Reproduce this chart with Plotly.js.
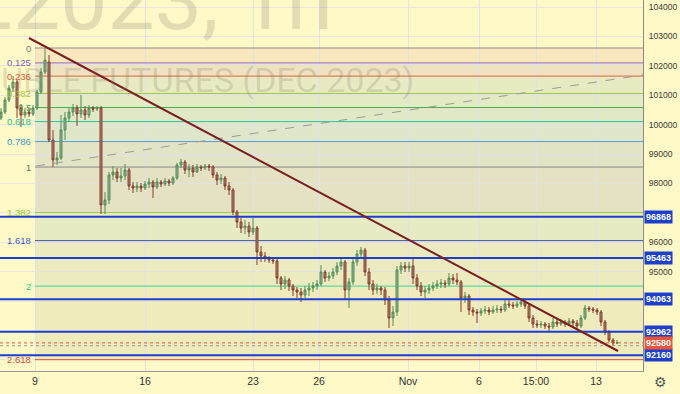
<!DOCTYPE html>
<html><head><meta charset="utf-8">
<script src="https://cdn.plot.ly/plotly-3.0.1.min.js"></script>
<style>html,body{margin:0;padding:0;background:#fff9c7;}#chart{width:680px;height:394px;}</style>
</head><body><div id="chart"></div>
<script>
// ---- hourly candles (price) ----
const opens = [
100226,100430,100838,101246,101450,100566,100328,100430,100362,100566,
101110,101790,102130,99478,98798,98866,99818,100226,100430,100566,
100362,100498,100328,100566,100532,100566,97268,97438,98288,98390,
98186,98254,98458,97914,97846,97914,97846,97982,98050,97880,
98050,97982,98084,98016,98186,98628,98730,98458,98526,98390,
98560,98526,98594,98560,98288,98118,98186,97914,97778,97030,
96690,96486,96554,96350,96486,95670,95534,95466,95398,95364,
94786,94582,94718,94514,94378,94310,94208,94378,94446,94514,
94582,94990,94786,94854,94990,95194,95330,94378,94650,95330,
95602,95738,94990,94582,94378,94446,94378,94038,93426,93630,
95058,95194,95126,95194,94786,94514,94310,94378,94446,94514,
94582,94616,94582,94786,94718,94650,94106,94174,93698,93630,
93596,93664,93698,93630,93698,93732,93698,93902,93868,93834,
93902,93970,93834,93426,93222,93188,93222,93154,93120,93290,
93222,93290,93222,93324,93256,93154,93426,93766,93732,93698,
93630,93290,92950,92678,92576];
const highs = [
100566,100940,101348,101654,101518,100702,100566,100566,100668,101178,
101926,102606,102368,99818,99070,100328,100430,100566,100702,100668,
101008,100634,100668,100634,100634,100634,97710,98390,98594,98526,
98526,98662,98526,98050,98050,98016,98084,98186,98118,98186,
98118,98186,98152,98254,98696,98832,98798,98662,98628,98662,
98628,98662,98662,98628,98390,98322,98254,98050,97846,97098,
96826,96758,96690,96826,96554,95874,95670,95534,95500,95432,
94854,94854,94786,94582,94480,94446,94514,94616,94650,94718,
95228,95058,94990,95126,95330,95466,95398,94786,95466,95738,
95840,95806,95126,94718,94582,94514,94480,94174,93834,95194,
95330,95330,95330,95466,94922,94650,94514,94582,94650,94718,
94752,94718,94956,94922,94956,94718,94310,94242,93800,93732,
93766,93834,93800,93834,93868,93834,94038,94038,93970,94004,
94072,94072,93902,93528,93358,93324,93290,93256,93426,93426,
93392,93358,93426,93392,93358,93528,93868,93834,93800,93766,
93698,93358,93018,92746,92678];
const lows = [
100158,100362,100770,101110,100226,99920,100226,100260,100294,100498,
101042,101722,99410,98560,98628,98798,99478,100090,100294,99954,
100226,100158,100226,100430,100464,96962,96962,97302,98118,98050,
98050,98118,97778,97676,97710,97710,97778,97846,97506,97812,
97880,97914,97914,97948,98118,98526,98322,98220,98220,98356,
98424,98458,98424,98186,97948,97982,97778,97608,96928,96486,
96316,96282,96180,96248,95228,95330,95330,95296,95262,94582,
94378,94412,94344,94174,94106,93970,94106,94174,94310,94378,
94514,94650,94684,94752,94888,95058,94038,93766,94548,95194,
95466,94854,94378,94208,94242,94208,93868,93086,93154,93494,
94922,94990,94990,94582,94378,94174,94106,94242,94344,94412,
94446,94446,94514,94582,94548,93630,93936,93528,93494,93256,
93494,93562,93528,93562,93596,93596,93630,93766,93732,93766,
93800,93732,93290,93086,93086,93086,93052,92950,93052,93120,
93154,93120,93154,93120,93052,93086,93358,93630,93596,93528,
93154,92848,92610,92474,92542];
const closes = [
100430,100838,101246,101450,100566,100328,100430,100362,100566,101110,
101790,102198,99478,98798,98866,99818,100226,100430,100566,100362,
100498,100328,100566,100532,100566,97268,97438,98288,98390,98186,
98254,98458,97914,97846,97914,97846,97982,98050,97880,98050,
97982,98084,98016,98186,98628,98730,98458,98526,98390,98560,
98526,98594,98560,98288,98118,98186,97914,97778,97030,96690,
96486,96554,96350,96486,95670,95534,95466,95398,95364,94786,
94582,94718,94514,94378,94310,94208,94378,94446,94514,94582,
94990,94786,94854,94990,95194,95330,94378,94650,95330,95602,
95738,94990,94582,94378,94446,94378,94038,93426,93630,95058,
95194,95126,95194,94786,94514,94310,94378,94446,94514,94582,
94616,94582,94786,94718,94650,94106,94174,93698,93630,93596,
93664,93698,93630,93698,93732,93698,93902,93868,93834,93902,
93970,93834,93426,93222,93188,93222,93154,93120,93290,93222,
93290,93222,93324,93256,93154,93426,93766,93732,93698,93630,
93290,92950,92678,92576,92580];

// ---- x axis (bar index) ticks ----
const xTickPos = [8.5, 36, 63, 79.5, 101.75, 119.5, 133.75, 148.75];
const xTickText = ['9', '16', '23', '26', 'Nov', '6', '15:00', '13'];

// ---- y axis ticks ----
const yTickVals = [92000,93000,94000,95000,96000,97000,98000,99000,100000,101000,102000,103000,104000];
const yTickText = ['','','','95000','96000','','98000','99000','100000','101000','102000','103000','104000'];

// ---- Fibonacci extension ----
const fibHigh = 102606, fibLow = 98558;
const fibRatios = [0, 0.125, 0.236, 0.382, 0.5, 0.618, 0.786, 1, 1.382, 1.618, 2, 2.618];
const fibLabels = ['0','0.125','0.236','0.382','0.5','0.618','0.786','1','1.382','1.618','2','2.618'];
const fibStartIdx = 8.5;

// ---- user horizontal levels ----
const levels = [96868, 95463, 94063, 92962, 92160];
const lastPrice = 92580;
const grayDotted = 92484;

// ---- trend lines ----
const trendX = [7, 154.25], trendY = [102946, 92304];
const dashX = [8.75, 160.5], dashY = [98594, 101688];

const fibLineColors = ['#8a8a8a','#8e6fc0','#e0603f','#9bc93e','#4cb050','#2ec4a0','#4a9fd6','#8a8a8a','#9ccc3a','#3f51c4','#3dd69a','#e04a3a'];
const fibTextColors = ['#7a7a7a','#7e5fc0','#e05a3c','#a5c93a','#3f9a45','#26c0a0','#3a97d4','#6a6a6a','#96c43a','#4257c6','#2ecc8a','#e04a3a'];
const bandColors = ['#fbe7bd','#efe2c0','#e8ebc2','#e4eac3','#e0e8c6','#dfe6c9','#e3e4c6','#e4e2c3','#e7ebc3','#ecebbf','#efebba'];

const idx = closes.map((_, i) => i);
const fibPrices = fibRatios.map(r => fibHigh - r * (fibHigh - fibLow));

const shapes = [];
const annotations = [];

for (let k = 0; k < fibPrices.length - 1; k++) {
  shapes.push({type:'rect', xref:'x', yref:'y', x0:fibStartIdx, x1:200, y0:fibPrices[k], y1:fibPrices[k+1],
    fillcolor:bandColors[k], line:{width:0}, layer:'below'});
}
fibPrices.forEach((p, k) => {
  shapes.push({type:'line', xref:'x', yref:'y', x0:fibStartIdx, x1:200, y0:p, y1:p,
    line:{color:fibLineColors[k], width:1}, layer:'between'});
  annotations.push({xref:'x', yref:'y', x:fibStartIdx, y:p, xanchor:'right', yanchor:'middle', xshift:-3,
    text:fibLabels[k], showarrow:false, borderpad:0,
    font:{family:'Arial', size:9.5, color:fibTextColors[k]}});
});

levels.forEach(p => {
  shapes.push({type:'line', xref:'paper', yref:'y', x0:0, x1:1, y0:p, y1:p, line:{color:'#1d3fcb', width:2}, layer:'above'});
  annotations.push({xref:'paper', yref:'y', x:1, y:p, xanchor:'left', yanchor:'middle', xshift:1,
    text:'<b>' + p + '</b>', showarrow:false, bgcolor:'#1d3fcb', borderpad:1,
    font:{family:'Arial', size:9, color:'#ffffff'}});
});
shapes.push({type:'line', xref:'paper', yref:'y', x0:0, x1:1, y0:lastPrice, y1:lastPrice, line:{color:'#e8553c', width:1, dash:'dot'}, layer:'above'});
shapes.push({type:'line', xref:'paper', yref:'y', x0:0, x1:1, y0:grayDotted, y1:grayDotted, line:{color:'#9a9a9a', width:1, dash:'dot'}, layer:'above'});
annotations.push({xref:'paper', yref:'y', x:1, y:lastPrice, xanchor:'left', yanchor:'middle', xshift:1,
  text:'<b>' + lastPrice + '</b>', showarrow:false, bgcolor:'#e8553c', borderpad:1,
  font:{family:'Arial', size:9, color:'#ffffff'}});

shapes.push({type:'line', xref:'x', yref:'y', x0:dashX[0], x1:dashX[1], y0:dashY[0], y1:dashY[1], line:{color:'#9b9b9b', width:1, dash:'dash'}, layer:'above'});
shapes.push({type:'line', xref:'x', yref:'y', x0:trendX[0], x1:trendX[1], y0:trendY[0], y1:trendY[1], line:{color:'#7a1e22', width:2}, layer:'above'});

// watermark
annotations.push({xref:'paper', yref:'paper', x:-112/643, y:1, xanchor:'left', yanchor:'middle',
  text:'SIZ2023,\u00a01h', showarrow:false, font:{family:'Roboto', size:84, color:'rgba(120,120,100,0.22)'}});
annotations.push({xref:'paper', yref:'paper', x:416/643, y:1 - 80/371, xanchor:'right', yanchor:'middle',
  text:'RUBLE FUTURES (DEC 2023)', showarrow:false, font:{family:'Roboto', size:34, color:'rgba(120,120,100,0.22)'}});
// settings icon
annotations.push({xref:'paper', yref:'paper', x:(660)/643, y:-(11)/371, xanchor:'center', yanchor:'middle',
  text:'⚙', showarrow:false, font:{family:'DejaVu Sans', size:14, color:'#555'}});

const trace = {
  type:'candlestick', x:idx, open:opens, high:highs, low:lows, close:closes,
  increasing:{line:{color:'#4f8f57', width:1}, fillcolor:'#9aab98'},
  decreasing:{line:{color:'#8c3a2c', width:1}, fillcolor:'#a08a7a'},
  whiskerwidth:0, hoverinfo:'skip', showlegend:false
};

const layout = {
  width:680, height:394,
  margin:{l:0, r:37, t:0, b:23, pad:0},
  paper_bgcolor:'#fff9c7', plot_bgcolor:'#fff9c7',
  showlegend:false,
  xaxis:{range:[-0.25, 160.5], tickmode:'array', tickvals:xTickPos, ticktext:xTickText,
    showgrid:true, gridcolor:'#e1e2e6', gridwidth:1, zeroline:false,
    showline:true, linecolor:'#9c9c9c', linewidth:1, ticks:'',
    tickfont:{family:'Arial', size:10.5, color:'#333'}, rangeslider:{visible:false}, fixedrange:true},
  yaxis:{side:'right', range:[91624, 104238], tickmode:'array', tickvals:yTickVals, ticktext:yTickText,
    showgrid:true, gridcolor:'rgba(222,224,236,0.75)', gridwidth:1, zeroline:false,
    showline:true, linecolor:'#8a8a8a', linewidth:1, ticks:'', ticklabelstandoff:3,
    tickfont:{family:'Arial', size:8.6, color:'#3a3a3a'}, fixedrange:true},
  shapes:shapes, annotations:annotations
};

Plotly.newPlot('chart', [trace], layout, {displayModeBar:false, staticPlot:true});
</script></body></html>
